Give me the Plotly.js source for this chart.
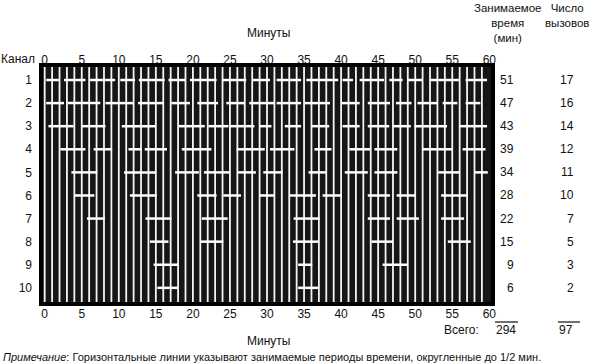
<!DOCTYPE html>
<html><head><meta charset="utf-8">
<script src="https://cdn.plot.ly/plotly-3.0.1.min.js"></script>
<style>html,body{margin:0;padding:0;background:#fff}#chart{width:591px;height:364px}</style>
</head><body><div id="chart"></div>
<script>
// Channels (rows) and occupied periods [start, end] in minutes
const channels = [1, 2, 3, 4, 5, 6, 7, 8, 9, 10];
const seg1 = [[0.2,1.9],[2.6,5.5],[6.1,9.5],[10.2,12.2],[12.7,16.2],[16.7,19.0],[19.6,23.2],[24.0,27.2],[28.0,30.4],[31.3,34.6],[35.3,39.6],[40.2,41.6],[42.5,45.8],[46.5,48.3],[49.0,51.0],[51.9,55.9],[56.8,59.7]];
const seg2 = [[0.2,2.6],[3.1,7.5],[8.2,12.0],[12.6,16.0],[17.1,19.6],[20.6,23.4],[24.5,27.0],[27.6,31.0],[31.3,34.6],[35.1,38.5],[40.0,42.5],[43.6,46.6],[47.4,49.5],[50.3,53.0],[53.7,55.7],[56.8,58.8]];
const seg3 = [[0.5,3.9],[5.0,8.2],[10.4,14.9],[18.0,21.6],[22.1,24.8],[25.0,28.3],[29.0,30.6],[32.4,34.6],[36.0,38.4],[40.2,42.5],[43.6,46.5],[47.0,49.4],[49.9,54.3],[55.9,59.7]];
const seg4 = [[2.1,5.5],[6.6,9.1],[11.3,13.1],[13.5,16.5],[18.5,22.5],[25.9,29.7],[30.4,33.7],[36.4,38.7],[41.1,44.0],[44.5,47.6],[51.0,55.0],[56.4,59.5]];
const seg5 = [[3.6,7.1],[10.7,14.9],[17.6,20.8],[21.5,25.0],[26.0,28.5],[29.5,32.1],[35.6,38.0],[40.5,43.6],[44.5,47.6],[53.1,56.0],[58.0,59.8]];
const seg6 = [[4.0,6.7],[11.5,15.1],[20.6,23.2],[24.1,26.5],[29.0,31.0],[33.0,36.6],[37.5,40.0],[43.6,46.6],[47.5,50.1],[53.5,57.0]];
const seg7 = [[5.7,8.1],[13.6,17.1],[21.2,24.7],[33.6,37.1],[43.6,46.6],[47.5,50.5],[53.5,56.6]];
const seg8 = [[14.2,16.7],[21.1,24.1],[33.5,37.0],[44.1,47.0],[54.4,57.5]];
const seg9 = [[14.7,18.1],[34.2,36.1],[45.6,49.0]];
const seg10 = [[15.2,18.0],[34.2,36.9]];
const segments = [seg1, seg2, seg3, seg4, seg5, seg6, seg7, seg8, seg9, seg10];

const occupiedMinutes = [51, 47, 43, 39, 34, 28, 22, 15, 9, 6];
const callCounts = [17, 16, 14, 12, 11, 10, 7, 5, 3, 2];
const totalOccupied = 294;
const totalCalls = 97;
const minuteTicks = [0, 5, 10, 15, 20, 25, 30, 35, 40, 45, 50, 55, 60];
const gridMinutes = Array.from({length: 60}, (_, i) => i);

const FONT = '"Liberation Sans Narrow","Arial Narrow","Liberation Sans",Arial,sans-serif';
const XR = [-0.5, 60.5];
const YR = [10.7, 0.35];

const traces = [];
// minute grid lines
const gx = [], gy = [];
gridMinutes.forEach(m => { gx.push(m, m, null); gy.push(0, 11, null); });
traces.push({x: gx, y: gy, mode: 'lines', line: {color: '#f4f4f4', width: 1.8}, hoverinfo: 'skip', showlegend: false});
// occupied periods
segments.forEach((segs, i) => {
  const x = [], y = [];
  segs.forEach(s => { x.push(s[0], s[1], null); y.push(channels[i], channels[i], null); });
  traces.push({x, y, mode: 'lines', line: {color: '#ffffff', width: 2.5}, hoverinfo: 'skip', showlegend: false});
});
// dummy for top axis
traces.push({x: [0], y: [1], xaxis: 'x2', mode: 'markers', marker: {opacity: 0}, hoverinfo: 'skip', showlegend: false});

const L = 41, W = 452, B = 304, H = 239;
const px = v => (v - L) / W;
const py = v => (B - v) / H;

const ann = [];
const tf = {family: FONT, size: 12, color: '#111'};
const hf = {family: FONT, size: 11.5, color: '#111'};
channels.forEach((c, i) => {
  ann.push({xref: 'paper', yref: 'y', x: px(516), y: c, xanchor: 'right', yanchor: 'middle', text: String(occupiedMinutes[i]), showarrow: false, font: tf});
  ann.push({xref: 'paper', yref: 'y', x: px(576), y: c, xanchor: 'right', yanchor: 'middle', text: String(callCounts[i]), showarrow: false, font: tf});
});
ann.push({xref: 'paper', yref: 'paper', x: px(508), y: py(0), xanchor: 'center', yanchor: 'top', text: 'Занимаемое<br>время<br>(мин)', showarrow: false, font: hf});
ann.push({xref: 'paper', yref: 'paper', x: px(567), y: py(0), xanchor: 'center', yanchor: 'top', text: 'Число<br>вызовов', showarrow: false, font: hf});
ann.push({xref: 'paper', yref: 'paper', x: px(268), y: py(33), xanchor: 'center', yanchor: 'middle', text: 'Минуты', showarrow: false, font: tf});
ann.push({xref: 'paper', yref: 'paper', x: px(268), y: py(341), xanchor: 'center', yanchor: 'middle', text: 'Минуты', showarrow: false, font: tf});
ann.push({xref: 'paper', yref: 'paper', x: px(18), y: py(59), xanchor: 'center', yanchor: 'middle', text: 'Канал', showarrow: false, font: tf});
ann.push({xref: 'paper', yref: 'paper', x: px(461), y: py(330), xanchor: 'center', yanchor: 'middle', text: 'Всего:', showarrow: false, font: tf});
ann.push({xref: 'paper', yref: 'paper', x: px(518), y: py(330), xanchor: 'right', yanchor: 'middle', text: String(totalOccupied), showarrow: false, font: tf});
ann.push({xref: 'paper', yref: 'paper', x: px(575), y: py(330), xanchor: 'right', yanchor: 'middle', text: String(totalCalls), showarrow: false, font: tf});
ann.push({xref: 'paper', yref: 'paper', x: px(1), y: py(357), xanchor: 'left', yanchor: 'middle', text: '<i>Примечание</i>: Горизонтальные линии указывают занимаемые периоды времени, округленные до 1/2 мин.', showarrow: false, font: {family: FONT, size: 11, color: '#111'}});

const shapes = [
  {type: 'rect', xref: 'paper', yref: 'paper', x0: 0, x1: 1, y0: 0, y1: 1, line: {color: '#000', width: 4}},
  {type: 'line', xref: 'paper', yref: 'paper', x0: px(495), x1: px(518), y0: py(322), y1: py(322), line: {color: '#111', width: 1.2}},
  {type: 'line', xref: 'paper', yref: 'paper', x0: px(558), x1: px(580), y0: py(322), y1: py(322), line: {color: '#111', width: 1.2}}
];

const axisFont = {family: FONT, size: 12, color: '#111'};
const layout = {
  width: 591, height: 364,
  margin: {l: L, r: 591 - L - W, t: 65, b: 364 - B, pad: 0},
  paper_bgcolor: '#ffffff',
  plot_bgcolor: '#161616',
  showlegend: false,
  xaxis: {range: XR, tickvals: minuteTicks, ticktext: minuteTicks.map(String), showgrid: false, zeroline: false, ticks: '', tickfont: axisFont, ticklabelstandoff: 1, fixedrange: true},
  xaxis2: {range: XR, overlaying: 'x', side: 'top', tickvals: minuteTicks, ticktext: minuteTicks.map(String), showgrid: false, zeroline: false, ticks: '', tickfont: axisFont, ticklabelstandoff: -2, fixedrange: true},
  yaxis: {range: YR, tickvals: channels, ticktext: channels.map(String), showgrid: false, zeroline: false, ticks: '', tickfont: axisFont, ticklabelstandoff: 8, fixedrange: true},
  annotations: ann,
  shapes: shapes
};
Plotly.newPlot('chart', traces, layout, {staticPlot: true, displayModeBar: false});
</script></body></html>
